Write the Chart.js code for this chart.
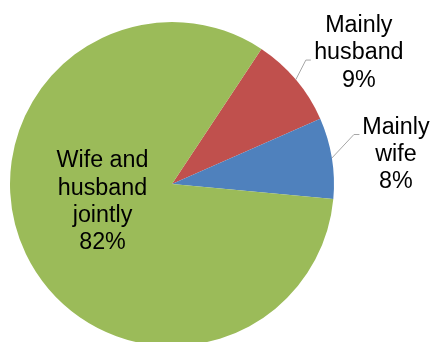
<!DOCTYPE html>
<html>
<head>
<meta charset="utf-8">
<script src="https://cdn.jsdelivr.net/npm/chart.js@4"></script>
<style>
  html, body { margin: 0; padding: 0; background: #fff; }
  #wrap { width: 433px; height: 342px; overflow: hidden; }
</style>
</head>
<body>
<div id="wrap"><canvas id="pieChart" width="433" height="346"></canvas></div>
<script>
// Dados do gráfico
var categories = ['Mainly husband', 'Mainly wife', 'Wife and husband jointly'];
var labelLines = [['Mainly', 'husband'], ['Mainly', 'wife'], ['Wife and', 'husband', 'jointly']];
var shares = [9, 8, 82];
var sliceColors = ['#C0504D', '#4F81BD', '#9BBB59'];

// onde fica cada rótulo (relativo à borda da fatia ou ao centro)
var labelLayout = [
    { outside: true, elbow: [10, -19.5], end: [15, -19.5], text: [63, -47.4] },
    { outside: true, elbow: [22, -23.5], end: [27.5, -23.5], text: [64, -24.3] },
    { outside: false, text: [-69.5, -16.7] }
];

var pieLabels = {
    id: 'pieLabels',
    afterDatasetsDraw: function (chart) {
        var ctx = chart.ctx;
        var meta = chart.getDatasetMeta(0);
        ctx.save();
        ctx.font = '23.3px "Liberation Sans", Arial, sans-serif';
        ctx.fillStyle = '#000';
        ctx.textAlign = 'center';
        ctx.textBaseline = 'alphabetic';
        meta.data.forEach(function (arc, i) {
            var p = arc.getProps(['x', 'y', 'startAngle', 'endAngle', 'outerRadius'], true);
            var mid = (p.startAngle + p.endAngle) / 2;
            var lay = labelLayout[i];
            var ox, oy;
            if (lay.outside) {
                ox = p.x + Math.cos(mid) * p.outerRadius;
                oy = p.y + Math.sin(mid) * p.outerRadius;
                ctx.strokeStyle = '#A6A6A6';
                ctx.lineWidth = 1;
                ctx.beginPath();
                ctx.moveTo(ox, oy);
                ctx.lineTo(ox + lay.elbow[0], oy + lay.elbow[1]);
                ctx.lineTo(ox + lay.end[0], oy + lay.end[1]);
                ctx.stroke();
            } else {
                ox = p.x;
                oy = p.y;
            }
            var lines = labelLines[i].concat([shares[i] + '%']);
            lines.forEach(function (t, k) {
                ctx.fillText(t, ox + lay.text[0], oy + lay.text[1] + k * 27.3);
            });
        });
        ctx.restore();
    }
};

var ctx = document.getElementById('pieChart').getContext('2d');
var chart = new Chart(ctx, {
    type: 'pie',
    data: {
        labels: categories,
        datasets: [{
            data: shares,
            backgroundColor: sliceColors,
            borderWidth: 0
        }]
    },
    options: {
        responsive: false,
        animation: false,
        rotation: 33.5,
        layout: {
            padding: { left: 10, right: 99, top: 22, bottom: 0 }
        },
        plugins: {
            legend: { display: false },
            tooltip: { enabled: false }
        }
    },
    plugins: [pieLabels]
});
</script>
</body>
</html>
